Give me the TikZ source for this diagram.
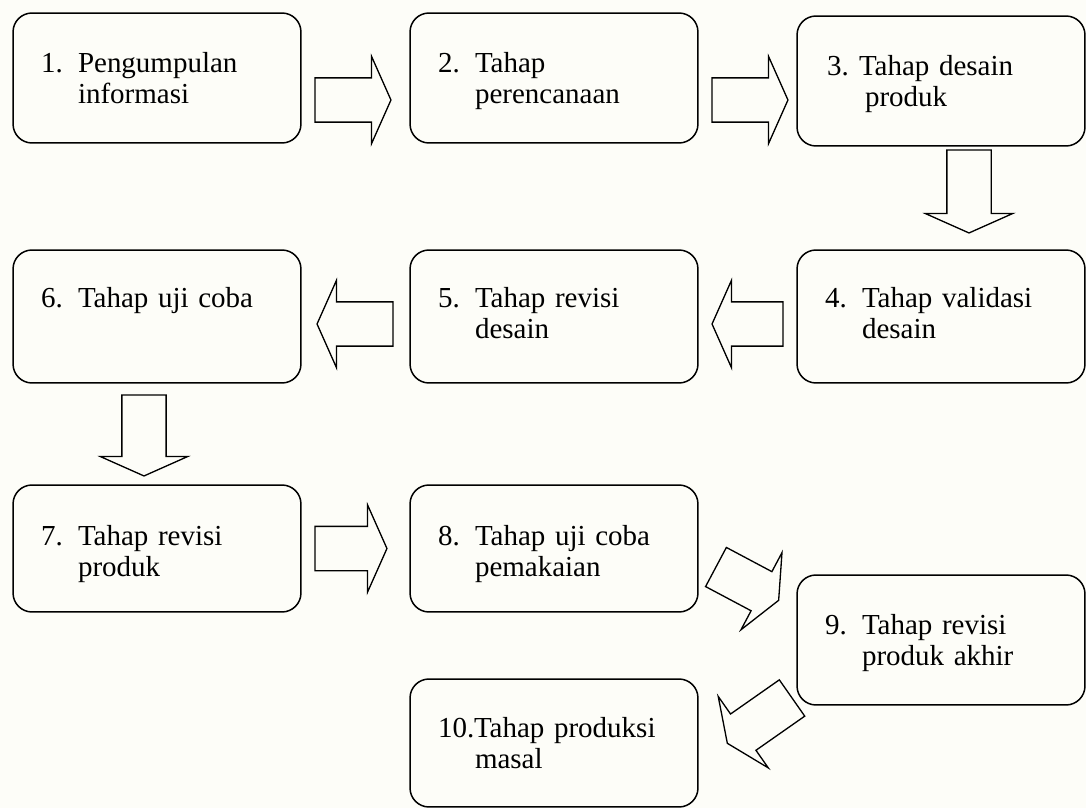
\documentclass[tikz,border=0pt]{standalone}
\usepackage{fontspec}
\setmainfont{Liberation Serif}
\usepackage{tikz}
\usetikzlibrary{shapes.arrows,calc}
\definecolor{paper}{RGB}{253,253,248}

% numbered stage text with hanging second line
\newcommand{\stage}[3]{\hspace*{0.56cm}\makebox[0.74cm][l]{#1}#2\\\hspace*{1.3cm}#3}

\begin{document}
\begin{tikzpicture}[
  x=0.02cm, y=-0.02cm,
  font=\fontsize{16.5}{18.2}\selectfont,
  stagebox/.style={rectangle,rounded corners=0.38cm,draw=black,line width=.85pt,align=left,text width=5.76cm,inner sep=0pt,outer sep=0pt,text height=1.18cm,text depth=1.42cm},
  midrow/.style={text height=1.14cm,text depth=1.52cm},
  lowrow/.style={text height=1.2cm,text depth=1.34cm},
  fatarrow/.style={single arrow,draw=black,line width=.75pt,single arrow tip angle=132,single arrow head extend=0.43cm,inner xsep=0pt,inner ysep=0.43cm,outer sep=0pt,minimum height=1.52cm,anchor=tail}
]
\fill[paper] (0,0) rectangle (1086,808);
\useasboundingbox (0,0) rectangle (1086,808);

% stages
\node[stagebox] (s1) at (157,78) {\stage{1.}{Pengumpulan}{informasi}};
\node[stagebox] (s2) at (554,78) {\stage{2.}{Tahap}{perencanaan}};
\node[stagebox] (s3) at (941,81) {\hspace*{0.6cm}\makebox[0.64cm][l]{3.}Tahap desain\\\hspace*{1.36cm}produk};
\node[stagebox,midrow] (s4) at (941,316.5) {\stage{4.}{Tahap validasi}{desain}};
\node[stagebox,midrow] (s5) at (554,316.5) {\stage{5.}{Tahap revisi}{desain}};
\node[stagebox,midrow] (s6) at (157,316.5) {\hspace*{0.56cm}\makebox[0.74cm][l]{6.}Tahap uji coba};
\node[stagebox,lowrow] (s7) at (157,548.5) {\stage{7.}{Tahap revisi}{produk}};
\node[stagebox,lowrow] (s8) at (554,548.5) {\stage{8.}{Tahap uji coba}{pemakaian}};
\node[stagebox] (s9) at (941,640) {\stage{9.}{Tahap revisi}{produk akhir}};
\node[stagebox,text height=1.16cm,text depth=1.4cm] (s10) at (554,743) {\hspace*{0.56cm}\makebox[0.72cm][l]{10.}Tahap produksi\\\hspace*{1.3cm}masal};

% block arrows between stages
\node[fatarrow] (a12) at ($(s1.east)+(14,22)$) {};
\node[fatarrow] (a23) at ($(s2.east)+(14,22)$) {};
\node[fatarrow,rotate=-90,minimum height=1.66cm] (a34) at ($(s3.south)+(28,4)$) {};
\node[fatarrow,rotate=180,minimum height=1.42cm] (a45) at ($(s4.west)+(-14,7.5)$) {};
\node[fatarrow,rotate=180] (a56) at ($(s5.west)+(-17,7.5)$) {};
\node[fatarrow,rotate=-90,minimum height=1.62cm] (a67) at ($(s6.south)+(-13,12)$) {};
\node[fatarrow,minimum height=1.44cm] (a78) at ($(s7.east)+(14,0)$) {};
\node[fatarrow,rotate=-28,minimum height=1.42cm] (a89) at ($(s8.east)+(18,18.5)$) {};
\node[fatarrow,rotate=215,minimum height=1.58cm] (a910) at ($(s9.south west)+(-5,-7)$) {};
\end{tikzpicture}
\end{document}
